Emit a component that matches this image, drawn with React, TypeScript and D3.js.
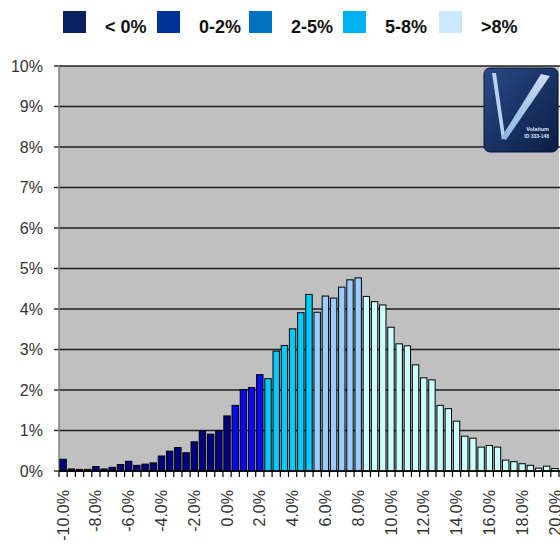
import React from "react";
import * as d3 from "d3";

const categories: number[] = [
  -10, -9.5, -9, -8.5, -8, -7.5, -7, -6.5, -6, -5.5, -5, -4.5, -4, -3.5, -3, -2.5, -2, -1.5, -1, -0.5,
  0, 0.5, 1, 1.5, 2, 2.5, 3, 3.5, 4, 4.5, 5, 5.5, 6, 6.5, 7, 7.5, 8, 8.5, 9, 9.5, 10, 10.5, 11, 11.5,
  12, 12.5, 13, 13.5, 14, 14.5, 15, 15.5, 16, 16.5, 17, 17.5, 18, 18.5, 19, 19.5, 20,
];

const frequencies: number[] = [
  0.29, 0.05, 0.04, 0.04, 0.11, 0.05, 0.09, 0.16, 0.24, 0.14, 0.17, 0.2, 0.37, 0.49, 0.58, 0.45, 0.72,
  1.0, 0.91, 1.0, 1.36, 1.62, 2.01, 2.06, 2.38, 2.28, 2.96, 3.1, 3.51, 3.91, 4.36, 3.92, 4.32, 4.27,
  4.54, 4.72, 4.77, 4.31, 4.18, 4.1, 3.55, 3.14, 3.09, 2.62, 2.3, 2.25, 1.62, 1.54, 1.23, 0.86, 0.81,
  0.59, 0.63, 0.59, 0.27, 0.23, 0.18, 0.14, 0.07, 0.12, 0.06,
];

const legendLabels: string[] = ["< 0%", "0-2%", "2-5%", "5-8%", ">8%"];
const legendColors: string[] = ["#0b2060", "#003399", "#0070c0", "#00b0f0", "#cce8ff"];
const barColors: string[] = ["#000080", "#0a0af0", "#00ccff", "#99ccff", "#ccffff"];
const yTicks: number[] = [0, 1, 2, 3, 4, 5, 6, 7, 8, 9, 10];
const xLabelEvery = 4;

function bucket(v: number): number {
  if (v <= 0) return 0;
  if (v <= 2) return 1;
  if (v <= 5) return 2;
  if (v <= 8) return 3;
  return 4;
}

export default function App() {
  const W = 560;
  const H = 545;
  const left = 59;
  const right = 559;
  const top = 66;
  const bottom = 471;

  const x = d3
    .scaleBand<number>()
    .domain(categories)
    .range([left, right])
    .paddingInner(0.22)
    .paddingOuter(0.11);
  const y = d3.scaleLinear().domain([0, 10]).range([bottom, top]);
  const step = x.step();
  const font = "Arial, 'Liberation Sans', sans-serif";

  const legendX = [63, 157, 249, 343, 439];

  return (
    <svg
      width={W}
      height={H}
      style={{ position: "absolute", left: 0, top: 0, background: "#fff" }}
      fontFamily={font}
    >
      <defs>
        <linearGradient id="logoBg" x1="0" y1="0" x2="1" y2="1">
          <stop offset="0" stopColor="#2a4a86" />
          <stop offset="1" stopColor="#0a1c44" />
        </linearGradient>
        <linearGradient id="vArm" x1="0" y1="0" x2="0" y2="1">
          <stop offset="0" stopColor="#c8dcf4" />
          <stop offset="1" stopColor="#8fb4e0" />
        </linearGradient>
      </defs>

      {/* legend */}
      {legendLabels.map((l, i) => (
        <g key={l}>
          <rect x={legendX[i]} y={11} width={23} height={22} fill={legendColors[i]} />
          <text x={legendX[i] + 42} y={33} fontSize={18} fontWeight="bold" fill="#111">
            {l}
          </text>
        </g>
      ))}

      {/* plot area */}
      <rect x={left} y={top} width={right - left} height={bottom - top} fill="#c0c0c0" />
      {yTicks.map((t) => (
        <g key={t}>
          <line x1={left} x2={right + 1} y1={y(t)} y2={y(t)} stroke="#1e1e1e" strokeWidth={1.6} />
          <line x1={left - 5} x2={left} y1={y(t)} y2={y(t)} stroke="#222" strokeWidth={1.4} />
          <text
            x={43}
            y={y(t)}
            dy="0.35em"
            textAnchor="end"
            fontSize={16}
            fill="#333"
          >
            {t}%
          </text>
        </g>
      ))}
      <line x1={left} x2={left} y1={top} y2={bottom} stroke="#808080" strokeWidth={1.5} />

      {/* bars */}
      {categories.map((c, i) => {
        const v = frequencies[i];
        return (
          <rect
            key={c}
            x={x(c)!}
            y={y(v)}
            width={x.bandwidth()}
            height={bottom - y(v)}
            fill={barColors[bucket(c)]}
            stroke="#000"
            strokeWidth={1}
          />
        );
      })}

      {/* x axis */}
      <line x1={left} x2={right + 1} y1={bottom} y2={bottom} stroke="#000" strokeWidth={1.5} />
      {d3.range(categories.length + 1).map((k) => (
        <line
          key={k}
          x1={left + k * step}
          x2={left + k * step}
          y1={bottom}
          y2={bottom + 6}
          stroke="#000"
          strokeWidth={1.2}
        />
      ))}
      {categories.map((c, i) =>
        i % xLabelEvery === 0 ? (
          <text
            key={c}
            transform={`translate(${x(c)! + x.bandwidth() / 2},490) rotate(-90)`}
            textAnchor="end"
            dy="0.35em"
            fontSize={16}
            fill="#333"
          >
            {c.toFixed(1)}%
          </text>
        ) : null
      )}

      {/* logo */}
      <g>
        <rect x={484} y={68} width={74} height={84} rx={6} fill="url(#logoBg)" stroke="#0a1838" />
        <polygon points="492,73 496,73 505,136 502,140" fill="#b9d2f0" />
        <polygon points="541,74 550,76 506,140 501,138" fill="url(#vArm)" />
        <text x={549} y={131} fontSize={5.5} fill="#dbe6f5" textAnchor="end" fontWeight="bold">
          Volatium
        </text>
        <text x={549} y={138} fontSize={5} fill="#dbe6f5" textAnchor="end" fontWeight="bold">
          ID 333-148
        </text>
      </g>
    </svg>
  );
}
